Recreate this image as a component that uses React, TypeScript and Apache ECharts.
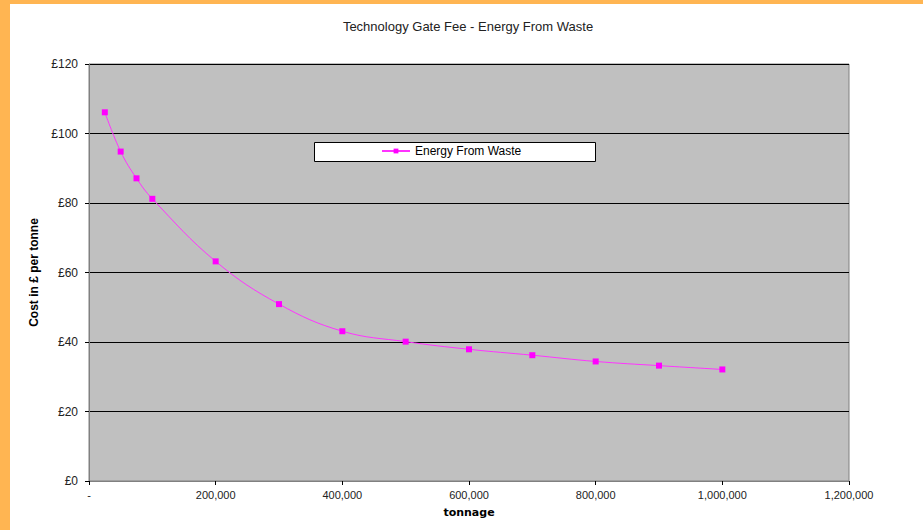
import React, { useEffect, useRef } from "react";
import * as echarts from "echarts";

// Annual throughput (tonnes) and the resulting gate fee (£ per tonne)
const tonnage = [25000, 50000, 75000, 100000, 200000, 300000, 400000, 500000, 600000, 700000, 800000, 900000, 1000000];
const costPerTonne = [106.1, 94.8, 87.1, 81.2, 63.2, 50.9, 43.1, 40.1, 37.9, 36.2, 34.4, 33.2, 32.1];

const seriesName = "Energy From Waste";
const chartTitle = "Technology Gate Fee - Energy From Waste";
const xAxisTitle = "tonnage";
const yAxisTitle = "Cost in £ per tonne";

export default function App() {
  const ref = useRef<HTMLDivElement>(null);

  useEffect(() => {
    if (!ref.current) return;
    const chart = echarts.init(ref.current, undefined, { renderer: "svg" });
    const points = tonnage.map((t, i) => [t, costPerTonne[i]]);

    chart.setOption({
      animation: false,
      backgroundColor: "#ffffff",
      textStyle: { fontFamily: "Liberation Sans, Arial, sans-serif" },
      title: {
        text: chartTitle,
        left: 468,
        textAlign: "center",
        top: 20,
        padding: 0,
        textStyle: { fontSize: 13, fontWeight: "normal", color: "#222", fontFamily: "Liberation Sans, Arial, sans-serif" },
      },
      graphic: [
        { type: "rect", left: 0, top: 0, shape: { width: 923, height: 4 }, style: { fill: "#FFB552" }, silent: true },
        { type: "rect", left: 0, top: 0, shape: { width: 10, height: 530 }, style: { fill: "#FFB552" }, silent: true },
        {
          type: "rect",
          left: 314,
          top: 142,
          z: 5,
          shape: { width: 281, height: 19 },
          style: { fill: "#ffffff", stroke: "#000000", lineWidth: 1 },
          silent: true,
        },
      ],
      legend: {
        data: [seriesName],
        left: 381,
        top: 145,
        padding: 0,
        z: 10,
        itemWidth: 28,
        itemHeight: 6,
        textStyle: { fontSize: 12, color: "#000", fontFamily: "Liberation Sans, Arial, sans-serif" },
      },
      grid: {
        left: 89,
        top: 64,
        width: 760,
        height: 417,
        show: true,
        backgroundColor: "#C0C0C0",
        borderColor: "#808080",
        borderWidth: 1,
      },
      xAxis: {
        type: "value",
        min: 0,
        max: 1200000,
        interval: 200000,
        name: xAxisTitle,
        nameLocation: "middle",
        nameGap: 26,
        nameTextStyle: { fontSize: 11, fontWeight: "bold", color: "#000", fontFamily: "DejaVu Sans, sans-serif", verticalAlign: "top" },
        axisLine: { show: true, lineStyle: { color: "#808080", width: 1 } },
        axisTick: { show: true, length: 4, lineStyle: { color: "#000", width: 1 } },
        axisLabel: {
          margin: 8,
          fontSize: 11,
          color: "#222",
          formatter: (v: number) => (v === 0 ? "-" : v.toLocaleString("en-US")),
        },
        splitLine: { show: false },
      },
      yAxis: {
        type: "value",
        min: 0,
        max: 120,
        interval: 20,
        name: yAxisTitle,
        nameLocation: "middle",
        nameRotate: 90,
        nameGap: 47,
        nameTextStyle: { fontSize: 12, fontWeight: "bold", color: "#000", fontFamily: "Liberation Sans, Arial, sans-serif" },
        axisLine: { show: true, lineStyle: { color: "#808080", width: 1 } },
        axisTick: { show: true, length: 4, lineStyle: { color: "#000", width: 1 } },
        axisLabel: {
          margin: 11,
          fontSize: 12,
          color: "#222",
          formatter: (v: number) => "£" + v,
        },
        splitLine: { show: true, lineStyle: { color: "#000", width: 1 } },
      },
      series: [
        {
          name: seriesName,
          type: "line",
          data: points,
          smooth: 0.4,
          symbol: "rect",
          symbolSize: 6,
          itemStyle: { color: "#FF00FF" },
          lineStyle: { color: "#FF33FF", width: 1 },
        },
      ],
    });

    return () => chart.dispose();
  }, []);

  return <div ref={ref} style={{ position: "absolute", left: 0, top: 0, width: 923, height: 530 }} />;
}
